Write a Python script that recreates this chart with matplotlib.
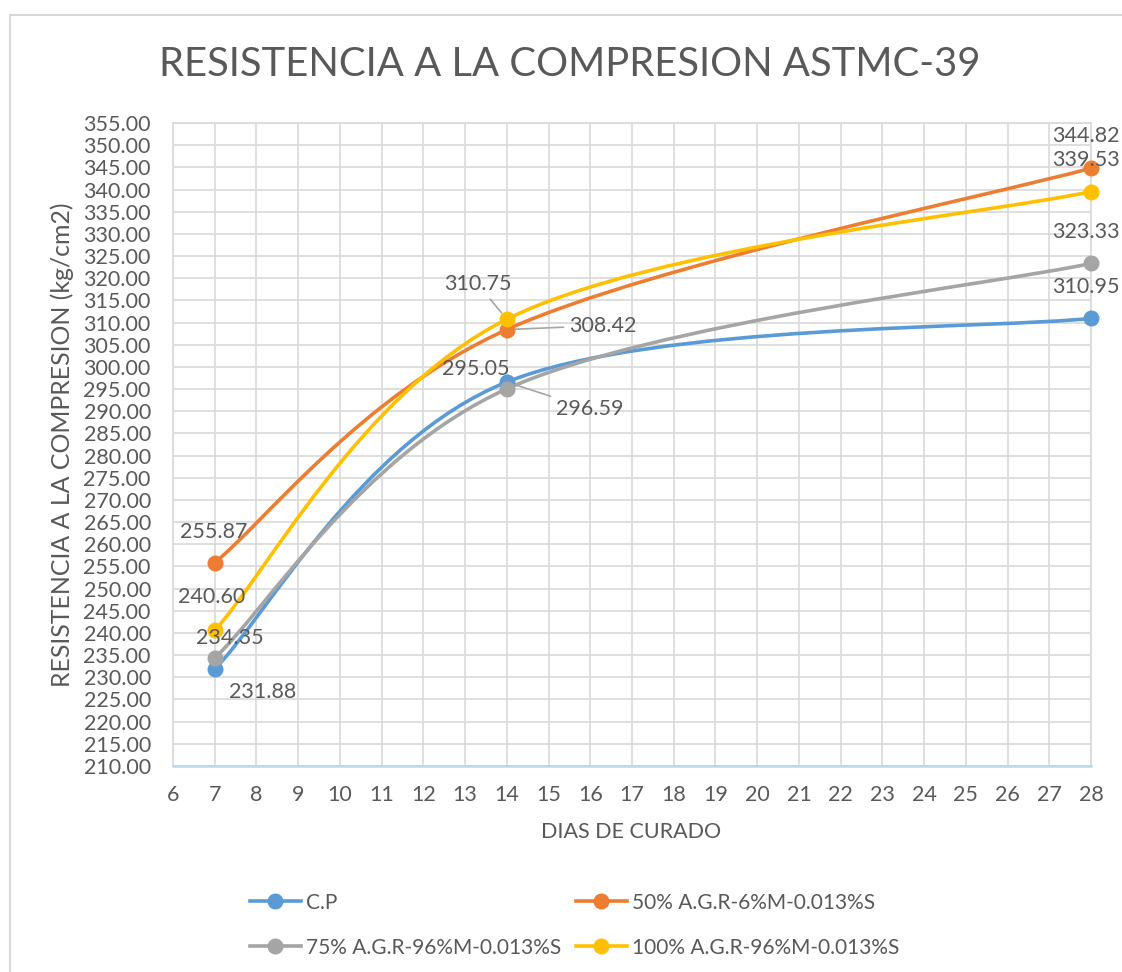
import matplotlib
matplotlib.use("Agg")
import matplotlib.pyplot as plt
from matplotlib.path import Path
from matplotlib.patches import PathPatch, Rectangle
from matplotlib.lines import Line2D
import numpy as np

# ---- data -------------------------------------------------------------
dias = [7, 14, 28]
series_names = ["C.P", "50% A.G.R-6%M-0.013%S",
                "75% A.G.R-96%M-0.013%S", "100% A.G.R-96%M-0.013%S"]
cp = [231.88, 296.59, 310.95]
agr50 = [255.87, 308.42, 344.82]
agr75 = [234.35, 295.05, 323.33]
agr100 = [240.60, 310.75, 339.53]
values = [cp, agr50, agr75, agr100]

x_ticks = list(range(6, 29))
y_ticks = list(range(210, 356, 5))

colors = ["#5B9BD5", "#ED7D31", "#A5A5A5", "#FFC000"]
text_col = "#595959"
grid_col = "#D9D9D9"
FONT = "Lato"
LBL = 15.5
LW = 2.6
MS = 10.5

# label offsets (pixels), horizontal alignment, leader line flag
label_style = [
    [((48, -23), "center", False), ((83, -27), "center", True), ((29, 31), "right", False)],
    [((-1, 31), "center", False), ((96, 4), "center", True), ((29, 32), "right", False)],
    [((15, 20), "center", False), ((-31, 20), "center", False), ((29, 31), "right", False)],
    [((-3, 33), "center", False), ((-29, 35), "center", True), ((29, 32), "right", False)],
]


def smooth_path(xs, ys, t=1.0 / 6.0):
    """Cubic Bezier through the points, Catmull-Rom style tangents."""
    pts = np.column_stack([xs, ys]).astype(float)
    n = len(pts)
    verts = [pts[0]]
    codes = [Path.MOVETO]
    for i in range(n - 1):
        p_prev = pts[i - 1] if i > 0 else pts[i]
        p0 = pts[i]
        p1 = pts[i + 1]
        p_next = pts[i + 2] if i + 2 < n else pts[i + 1]
        c1 = p0 + (p1 - p_prev) * t
        c2 = p1 - (p_next - p0) * t
        verts += [c1, c2, p1]
        codes += [Path.CURVE4] * 3
    return Path(verts, codes)


W, H = 1122, 972
fig = plt.figure(figsize=(W / 100, H / 100), dpi=100)
fig.patch.set_facecolor("white")

# outer chart frame
fig.patches.append(Rectangle((10 / W, -0.1), 1.2, (H - 15) / H + 0.1,
                             transform=fig.transFigure, fill=False,
                             ec=grid_col, lw=1.5))

left, right, top, bottom = 173, 1091, 123, 766
ax = fig.add_axes([left / W, 1 - bottom / H, (right - left) / W, (bottom - top) / H])
ax.set_xlim(6, 28)
ax.set_ylim(210, 355)
ax.set_xticks(x_ticks)
ax.set_yticks(y_ticks)
ax.set_yticklabels([f"{v:.2f}" for v in y_ticks])
ax.tick_params(length=0, labelsize=LBL, colors=text_col)
ax.tick_params(axis="y", pad=16)
ax.tick_params(axis="x", pad=14)
for lab in ax.get_xticklabels() + ax.get_yticklabels():
    lab.set_fontfamily(FONT)
ax.grid(True, color=grid_col, lw=1.2, zorder=0)
ax.set_axisbelow(True)
for s in ["left", "top", "right"]:
    ax.spines[s].set_color(grid_col)
    ax.spines[s].set_linewidth(1.2)
ax.spines["bottom"].set_color("#BDD7EE")
ax.spines["bottom"].set_linewidth(1.8)

for vals, col in zip(values, colors):
    ax.add_patch(PathPatch(smooth_path(dias, vals), fc="none", ec=col,
                           lw=LW, capstyle="round", zorder=3))
    ax.plot(dias, vals, ls="none", marker="o", ms=MS, color=col, zorder=4,
            clip_on=False)

for vals, styles in zip(values, label_style):
    for xd, v, (off, ha, leader) in zip(dias, vals, styles):
        kw = {}
        if leader:
            kw["arrowprops"] = dict(arrowstyle="-", color="#A6A6A6", lw=1.2,
                                    shrinkA=2, shrinkB=6)
        ax.annotate(f"{v:.2f}", xy=(xd, v), xytext=off,
                    textcoords="offset pixels", ha=ha, va="center",
                    fontsize=LBL, color=text_col, family=FONT, zorder=5,
                    annotation_clip=False, **kw)

fig.text(570 / W, 1 - 65 / H, "RESISTENCIA A LA COMPRESION ASTMC-39",
         ha="center", va="center", fontsize=28.8, color=text_col, family=FONT)
fig.text(62 / W, 1 - 445 / H, "RESISTENCIA A LA COMPRESION (kg/cm2)",
         rotation=90, ha="center", va="center", fontsize=17.9,
         color=text_col, family=FONT)
fig.text(631 / W, 1 - 832 / H, "DIAS DE CURADO", ha="center", va="center",
         fontsize=15.5, color=text_col, family=FONT)

LEG = 15
handles = [Line2D([], [], color=c, lw=LW, marker="o", ms=MS) for c in colors]
order = [0, 2, 1, 3]
leg = fig.legend([handles[i] for i in order], [series_names[i] for i in order],
                 ncol=2, loc="center left",
                 bbox_to_anchor=(231 / W, 1 - 925 / H), frameon=False,
                 prop={"family": FONT, "size": LEG}, labelcolor=text_col,
                 handlelength=2.45, handletextpad=0.25, columnspacing=0.7,
                 labelspacing=1.2)

fig.savefig("out.png", dpi=100)
